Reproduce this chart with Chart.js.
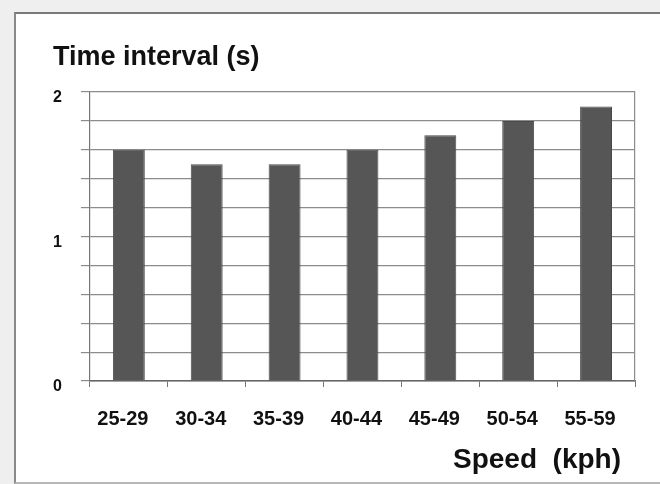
<!DOCTYPE html>
<html><head><meta charset="utf-8">
<script src="https://cdn.jsdelivr.net/npm/chart.js@4/dist/chart.umd.min.js"></script>
<style>
html,body{margin:0;padding:0;background:#efefef;width:660px;height:484px;overflow:hidden}
#panel{position:absolute;left:14px;top:12px;width:660px;height:468px;background:#fff;border-left:2px solid #8a8a8a;border-top:2px solid #7a7a7a;border-bottom:2px solid #b8b8b8}
canvas{position:absolute;left:0;top:0}
</style></head><body>
<div id="panel"><canvas id="c" width="644" height="468"></canvas></div>
<script>
const categories = ['25-29', '30-34', '35-39', '40-44', '45-49', '50-54', '55-59'];
const timeInterval = [1.6, 1.5, 1.5, 1.6, 1.7, 1.8, 1.9];
const yLabeledTicks = [0, 1, 2];
const yTitle = 'Time interval (s)';
const xTitle = 'Speed  (kph)';

const FONT = "'Liberation Sans', Arial, Helvetica, sans-serif";
const gridCol = '#8c8c8c';

new Chart(document.getElementById('c'), {
  type: 'bar',
  data: {
    labels: categories,
    datasets: [{
      data: timeInterval,
      backgroundColor: '#565656',
      borderColor: '#4a4a4a',
      borderWidth: 1,
      categoryPercentage: 1.0,
      barPercentage: 0.41
    }]
  },
  options: {
    responsive: false,
    animation: false,
    devicePixelRatio: 1,
    layout: { padding: { left: 37, right: 25, top: 0, bottom: 2.4 } },
    plugins: {
      legend: { display: false },
      tooltip: { enabled: false },
      title: {
        display: true,
        text: yTitle,
        align: 'start',
        color: '#111',
        font: { family: FONT, size: 27, weight: 'bold' },
        padding: { top: 27, bottom: 18.6 }
      }
    },
    scales: {
      x: {
        type: 'category',
        offset: true,
        afterFit: function (axis) { axis.height -= 20; },
        grid: { display: true, drawOnChartArea: false, offset: true, tickLength: 6, color: '#777', tickColor: '#777' },
        border: { display: true, color: '#666', width: 1.5 },
        ticks: {
          color: '#111',
          padding: 20,
          labelOffset: -6,
          maxRotation: 0,
          font: { family: FONT, size: 20, weight: 'bold' }
        },
        title: {
          display: true,
          text: xTitle + '\u2002',
          align: 'end',
          color: '#111',
          font: { family: FONT, size: 28, weight: 'bold' },
          padding: { top: 12, bottom: 3 }
        }
      },
      y: {
        min: 0,
        max: 2,
        afterFit: function (axis) { axis.width -= 19; },
        grid: { color: gridCol, tickColor: gridCol, tickLength: 9, lineWidth: 1.2 },
        border: { display: true, color: '#777', width: 1.2 },
        ticks: {
          stepSize: 0.2,
          padding: 19,
          labelOffset: 6,
          color: '#111',
          font: { family: FONT, size: 16, weight: 'bold' },
          callback: function (v) {
            const r = Math.round(v);
            return (Math.abs(v - r) < 1e-6 && yLabeledTicks.includes(r)) ? String(r) : '';
          }
        }
      },
      y2: {
        position: 'right',
        min: 0,
        max: 2,
        grid: { display: true, drawOnChartArea: false, drawTicks: false },
        border: { display: true, color: gridCol, width: 1.2 },
        ticks: { display: false }
      }
    }
  }
});
</script>
</body></html>
